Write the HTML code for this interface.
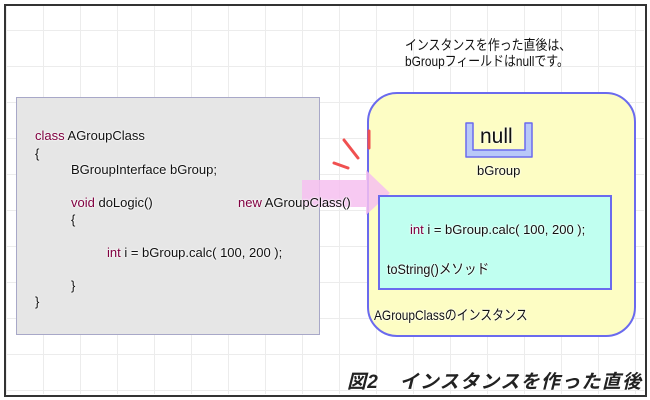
<!DOCTYPE html>
<html><head><meta charset="utf-8"><style>
body{margin:0;width:650px;height:400px;background:#fff;overflow:hidden;position:relative;font-family:"Liberation Sans","Noto Sans CJK JP",sans-serif;}
.grid{position:absolute;left:6px;top:6px;width:638px;height:388px;
background-image:linear-gradient(#ececec 1px,transparent 1px),linear-gradient(90deg,#ececec 1px,transparent 1px);
background-size:37px 36px;background-position:0 24px;}
.frame{position:absolute;left:4px;top:4px;width:639px;height:389px;border:2px solid #333;}
.t{position:absolute;font-size:13px;color:#111;white-space:nowrap;text-shadow:0 0 2px #fff,0 0 2px #fff;}
.k{color:#800040}
</style></head><body>
<div class="grid"></div>
<div class="frame"></div>
<div class="t" style="left:405px;top:37px;font-size:14px;line-height:16px;transform:scaleX(0.85);transform-origin:left">インスタンスを作った直後は、<br>bGroupフィールドはnullです。</div>
<div style="position:absolute;left:16px;top:97px;width:302px;height:236px;background:#e6e6e6;border:1.5px solid #a8a8c8;"></div>
<div class="t" style="left:35px;top:128px"><span class="k">class</span> AGroupClass</div>
<div class="t" style="left:35px;top:146px">{</div>
<div class="t" style="left:71px;top:162px">BGroupInterface bGroup;</div>
<div class="t" style="left:71px;top:195px"><span class="k">void</span> doLogic()</div>
<div class="t" style="left:71px;top:212px">{</div>
<div class="t" style="left:107px;top:245px"><span class="k">int</span> i = bGroup.calc( 100, 200 );</div>
<div class="t" style="left:71px;top:278px">}</div>
<div class="t" style="left:35px;top:294px">}</div>
<div style="position:absolute;left:367px;top:92px;width:265px;height:241px;background:#fdfdc4;border:2px solid #6a6aee;border-radius:30px;"></div>
<svg style="position:absolute;left:0;top:0" width="650" height="400">
<polygon points="302,180 366,180 366,170 390,193 366,215 366,207 302,207" fill="#f6c0f0" opacity="0.85"/>
<g stroke="#f05050" stroke-width="3" stroke-linecap="round"><line x1="344" y1="140" x2="358" y2="158"/><line x1="334" y1="163" x2="348" y2="168"/><line x1="369" y1="131" x2="369" y2="148"/></g>
<path d="M466,123 L466,157 L532,157 L532,123 L525,123 L525,150 L473,150 L473,123 Z" fill="#b8c8f8" stroke="#6a6aee" stroke-width="1.5" stroke-linejoin="round"/>
</svg>
<div class="t" style="left:480px;top:125px;font-size:21px">null</div>
<div class="t" style="left:477px;top:163px;font-size:13px">bGroup</div>
<div class="t" style="left:238px;top:195px"><span class="k">new</span> AGroupClass()</div>
<div style="position:absolute;left:378px;top:195px;width:230px;height:91px;background:#c0fff0;border:2px solid #6a6aee;"></div>
<div class="t" style="left:410px;top:222px"><span class="k">int</span> i = bGroup.calc( 100, 200 );</div>
<div class="t" style="left:387px;top:259px;font-size:14px;transform:scaleX(0.9);transform-origin:left">toString()メソッド</div>
<div class="t" style="left:374px;top:305px;font-size:14px;transform:scaleX(0.85);transform-origin:left">AGroupClassのインスタンス</div>
<div class="t" style="left:347px;top:373px;font-size:19px;letter-spacing:1.3px;font-weight:bold;font-style:italic;color:#222;line-height:20px">図2　インスタンスを作った直後</div>
</body></html>
